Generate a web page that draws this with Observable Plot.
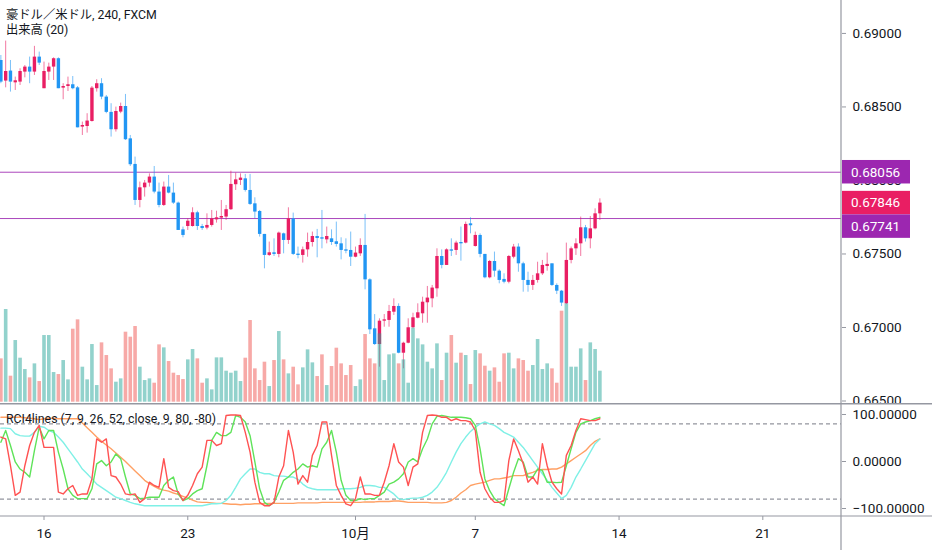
<!DOCTYPE html>
<html><head><meta charset="utf-8">
<script src="https://cdn.jsdelivr.net/npm/d3@7"></script>
<script src="https://cdn.jsdelivr.net/npm/@observablehq/plot@0.6"></script>
<style>
body{margin:0;background:#fff;}
#wrap{position:relative;width:932px;height:550px;overflow:hidden;background:#fff;font-family:Roboto,"Noto Sans CJK JP",sans-serif;color:#131722;}
#wrap svg{position:absolute;left:0;}
.lg{position:absolute;left:6px;font-size:12.3px;line-height:16px;color:#131722;white-space:nowrap;font-family:Roboto,"Noto Sans CJK JP",sans-serif;}
g[aria-label$="axis tick"]{stroke:#9598a1;}
</style></head>
<body><div id="wrap"></div>
<script>
// ---- data (AUD/USD 4h, FXCM) ----
const opens = [0.68816,0.68676,0.68744,0.68664,0.68669,0.68737,0.68771,0.68737,0.68839,0.68624,0.68737,0.68771,0.68828,0.68628,0.68639,0.68651,0.68630,0.68363,0.68367,0.68401,0.68624,0.68658,0.68567,0.68463,0.68345,0.68465,0.68503,0.68283,0.68109,0.67864,0.67950,0.67982,0.68023,0.67921,0.67830,0.67955,0.67914,0.67846,0.67664,0.67687,0.67687,0.67780,0.67687,0.67676,0.67694,0.67732,0.67744,0.67751,0.67801,0.67971,0.68000,0.68011,0.67932,0.67841,0.67789,0.67633,0.67490,0.67508,0.67497,0.67637,0.67592,0.67739,0.67499,0.67490,0.67528,0.67578,0.67619,0.67610,0.67596,0.67603,0.67583,0.67569,0.67528,0.67524,0.67478,0.67501,0.67558,0.67324,0.66991,0.66884,0.67043,0.67048,0.67104,0.67143,0.66825,0.66893,0.66998,0.67063,0.67093,0.67168,0.67195,0.67263,0.67483,0.67422,0.67528,0.67524,0.67578,0.67574,0.67705,0.67551,0.67626,0.67497,0.67338,0.67449,0.67383,0.67327,0.67308,0.67478,0.67547,0.67433,0.67320,0.67286,0.67320,0.67365,0.67415,0.67433,0.67286,0.67247,0.67161,0.67456,0.67535,0.67569,0.67678,0.67603,0.67671,0.67773];
const highs = [0.68850,0.68948,0.68816,0.68703,0.68760,0.68782,0.68839,0.68912,0.68873,0.68805,0.68798,0.68834,0.68834,0.68658,0.68703,0.68707,0.68639,0.68397,0.68454,0.68639,0.68685,0.68692,0.68578,0.68522,0.68499,0.68526,0.68585,0.68306,0.68159,0.67989,0.68000,0.68045,0.68095,0.67982,0.67989,0.68034,0.67982,0.67853,0.67683,0.67739,0.67814,0.67791,0.67701,0.67773,0.67796,0.67791,0.67864,0.67830,0.68063,0.68050,0.68045,0.68041,0.68041,0.67882,0.67796,0.67633,0.67581,0.67603,0.67649,0.67642,0.67814,0.67778,0.67547,0.67547,0.67642,0.67649,0.67667,0.67796,0.67683,0.67664,0.67717,0.67610,0.67603,0.67649,0.67547,0.67603,0.67769,0.67331,0.67088,0.67059,0.67088,0.67150,0.67195,0.67161,0.66900,0.67059,0.67097,0.67161,0.67206,0.67279,0.67286,0.67535,0.67528,0.67535,0.67603,0.67587,0.67683,0.67717,0.67746,0.67649,0.67637,0.67497,0.67456,0.67513,0.67392,0.67365,0.67490,0.67565,0.67569,0.67444,0.67376,0.67354,0.67444,0.67456,0.67506,0.67433,0.67297,0.67252,0.67574,0.67547,0.67603,0.67751,0.67694,0.67755,0.67807,0.67875];
const lows = [0.68658,0.68630,0.68601,0.68612,0.68646,0.68698,0.68658,0.68714,0.68782,0.68624,0.68680,0.68680,0.68624,0.68549,0.68605,0.68617,0.68358,0.68306,0.68322,0.68397,0.68601,0.68549,0.68454,0.68295,0.68329,0.68454,0.68272,0.68095,0.67830,0.67814,0.67887,0.67955,0.67909,0.67814,0.67823,0.67909,0.67837,0.67660,0.67610,0.67660,0.67683,0.67660,0.67660,0.67664,0.67683,0.67710,0.67660,0.67728,0.67796,0.67932,0.67966,0.67921,0.67830,0.67739,0.67615,0.67399,0.67483,0.67483,0.67474,0.67501,0.67565,0.67490,0.67467,0.67438,0.67478,0.67547,0.67474,0.67535,0.67569,0.67558,0.67547,0.67460,0.67501,0.67415,0.67474,0.67483,0.67256,0.66952,0.66878,0.66730,0.67002,0.67002,0.67082,0.66821,0.66719,0.66889,0.66991,0.67059,0.67029,0.67029,0.67134,0.67206,0.67399,0.67422,0.67483,0.67490,0.67451,0.67569,0.67637,0.67547,0.67474,0.67331,0.67331,0.67342,0.67297,0.67297,0.67297,0.67467,0.67376,0.67240,0.67240,0.67252,0.67302,0.67354,0.67383,0.67279,0.67224,0.67143,0.67156,0.67433,0.67490,0.67483,0.67581,0.67535,0.67664,0.67728];
const closes = [0.68669,0.68741,0.68669,0.68678,0.68741,0.68771,0.68737,0.68839,0.68798,0.68741,0.68771,0.68828,0.68624,0.68639,0.68651,0.68624,0.68358,0.68374,0.68404,0.68628,0.68658,0.68567,0.68463,0.68345,0.68469,0.68503,0.68277,0.68107,0.67864,0.67950,0.67982,0.68023,0.67921,0.67830,0.67955,0.67914,0.67846,0.67660,0.67626,0.67723,0.67780,0.67687,0.67673,0.67694,0.67739,0.67746,0.67755,0.67801,0.67973,0.68004,0.68016,0.67932,0.67837,0.67785,0.67633,0.67490,0.67508,0.67497,0.67642,0.67592,0.67739,0.67497,0.67490,0.67528,0.67578,0.67619,0.67605,0.67601,0.67619,0.67578,0.67565,0.67524,0.67519,0.67478,0.67506,0.67558,0.67324,0.66984,0.66884,0.67043,0.67052,0.67109,0.67143,0.66825,0.66893,0.66998,0.67066,0.67100,0.67172,0.67200,0.67268,0.67483,0.67422,0.67528,0.67519,0.67574,0.67569,0.67701,0.67692,0.67626,0.67497,0.67338,0.67449,0.67383,0.67320,0.67308,0.67483,0.67547,0.67433,0.67320,0.67286,0.67320,0.67365,0.67422,0.67429,0.67286,0.67247,0.67166,0.67456,0.67535,0.67569,0.67678,0.67603,0.67671,0.67773,0.67846];
const volumes = [130,278,78,185,132,98,73,115,62,200,200,89,83,125,67,219,247,105,67,173,50,178,140,100,60,70,210,195,227,105,65,70,57,172,163,122,87,80,68,127,158,130,57,70,37,133,133,93,87,93,62,132,245,100,65,120,47,125,212,127,85,105,52,103,157,118,77,142,50,107,162,115,80,110,47,67,203,130,115,205,65,142,145,115,127,57,222,190,172,120,100,175,65,147,200,117,147,140,53,155,145,108,93,103,60,145,147,100,130,125,93,110,188,98,115,100,57,273,295,105,105,160,65,178,158,93];
// RCI4lines (7, 9, 26, 52)
const rci7 = [52,48,-9,-72,-65,-9,34,62,77,30,30,30,-65,-69,-58,-51,-72,-69,-69,-37,48,41,48,-30,-33,-48,-69,-71,-69,-87,-79,-44,-51,-55,6,-55,-62,-64,-83,-72,-51,-26,
 -12,45,45,34,38,98,99,99,98,62,20,-44,-87,-94,-94,-87,-33,-9,66,20,-48,-30,-44,13,34,84,84,13,-51,-72,-90,-94,-79,-33,-69,-69,-72,-72,-44,-9,38,-1,
 -12,-51,-12,-5,62,98,99,98,94,94,87,91,87,87,84,66,-23,-58,-76,-87,-87,-83,2,48,23,-5,-44,-33,-48,38,-9,-44,-58,-69,13,34,66,91,89,87,87,91];
const rci9 = [41,66,34,-1,-16,-23,-33,23,73,48,66,66,20,-16,-58,-72,-79,-79,-79,-58,-5,2,-9,-1,16,6,-33,-69,-72,-79,-78,-76,-76,-76,-51,-40,-33,-69,-83,-79,-69,-62,
 -58,-9,45,62,55,55,62,98,94,84,55,-1,-58,-87,-94,-87,-65,-40,-33,-23,-16,-5,-12,-9,-12,27,41,66,20,-40,-72,-83,-83,-79,-81,-79,-79,-72,-65,-48,-44,-37,
 -26,-1,6,-1,27,48,80,96,98,96,94,94,94,93,91,77,27,-37,-62,-79,-87,-94,-58,-23,6,-1,-33,-33,-16,-19,-44,-44,-45,-44,-9,27,62,80,84,87,91,94];
const rci26 = [71,71,70,59,55,54,54,62,75,73,66,62,52,41,27,13,-1,-16,-26,-37,-48,-55,-62,-69,-76,-79,-83,-87,-90,-92,-94,-94,-94,-94,-94,-94,-94,-94,-94,-94,-94,-94,
 -94,-92,-90,-90,-89,-83,-72,-55,-37,-26,-16,-16,-23,-26,-26,-30,-31,-31,-33,-33,-38,-48,-55,-58,-60,-60,-60,-60,-60,-58,-58,-58,-57,-55,-51,-51,-52,-55,-55,-62,-69,-79,
 -81,-79,-78,-78,-76,-72,-65,-55,-40,-23,-1,20,38,52,64,73,80,84,80,77,70,62,57,52,41,30,16,2,-12,-26,-40,-55,-67,-79,-72,-55,-33,-16,2,20,38,48];
const rci52 = [94,94,94,94,94,93,92,91,89,91,92,92,91,91,91,91,91,82,72,62,52,43,35,27,18,9,0,-10,-20,-30,-40,-47,-53,-58,-61,-63,-67,-70,-74,-78,-82,-86,
 -87,-87,-88,-89,-89,-90,-91,-91,-92,-91,-91,-90,-90,-90,-89,-89,-89,-89,-89,-89,-88,-88,-88,-88,-88,-87,-87,-87,-87,-87,-87,-87,-87,-87,-86,-86,-86,-85,-85,-85,-84,-84,
 -85,-87,-87,-87,-87,-87,-88,-88,-88,-87,-83,-76,-67,-60,-51,-48,-46,-44,-40,-37,-37,-35,-33,-30,-30,-30,-26,-23,-19,-17,-17,-16,-16,-12,-5,2,9,16,23,34,43,48];
// axes / annotations
const dayTicks = [9, 39, 74, 99, 129, 159];
const dayLabels = ["16", "23", "10月", "7", "14", "21"];
const priceTicks = [0.665, 0.670, 0.675, 0.680, 0.685, 0.690];
const levelLines = [0.68056, 0.67741];
const lastPrice = 0.67846;
const rciTicks = [-100, 0, 100];
const rciLevels = [80, -80];

// ---- styling ----
const W = 932, MR = 91;
const XDOM = [-0.08, 175.42];
const UP = "#e91e63", DN = "#2196f3", PURPLE = "#9c27b0";
const VOL_UP = "rgba(38,166,154,0.5)", VOL_DN = "rgba(239,83,80,0.5)";
const FRAME = "#9598a1";
const FONT = "Roboto, 'Noto Sans CJK JP', sans-serif";

const bars = opens.map((o, i) => ({i, o, h: highs[i], l: lows[i], c: closes[i], v: volumes[i], up: closes[i] >= o}));
const wrap = document.getElementById("wrap");

// price pane
const priceChart = Plot.plot({
  width: W, height: 403, marginLeft: 0, marginRight: MR, marginTop: 0, marginBottom: 0,
  style: {fontFamily: FONT, fontSize: "13.5px", color: "#131722", background: "transparent"},
  x: {domain: XDOM, axis: null},
  y: {domain: [0.66483, 0.69224], axis: "right", ticks: priceTicks, tickFormat: d3.format(".5f"), tickSize: 4, tickPadding: 7, label: null},
  color: {type: "identity"},
  marks: [
    Plot.ruleY(levelLines, {stroke: PURPLE, strokeWidth: 1, strokeOpacity: 0.85}),
    Plot.ruleX(bars, {x: "i", y1: "l", y2: "h", stroke: d => d.up ? UP : DN, strokeOpacity: 0.6, strokeWidth: 1}),
    Plot.ruleX(bars, {x: "i", y1: "o", y2: "c", stroke: d => d.up ? UP : DN, strokeWidth: 3.4})
  ]
});
priceChart.style.top = "0px";
wrap.appendChild(priceChart);

// price labels on the right scale
{
  const ys = priceChart.scale("y"), xs = priceChart.scale("x");
  const x0 = xs.apply(XDOM[1]);
  const H = 23.5;
  const labs = [
    {p: levelLines[0], fill: PURPLE},
    {p: lastPrice, fill: UP},
    {p: levelLines[1], fill: PURPLE}
  ].map(d => ({...d, y: ys.apply(d.p) - H / 2})).sort((a, b) => a.y - b.y);
  for (let k = 1; k < labs.length; k++) if (labs[k].y < labs[k - 1].y + H) labs[k].y = labs[k - 1].y + H;
  const g = d3.select(priceChart).append("g").attr("text-anchor", "start");
  labs.forEach(d => {
    g.append("rect").attr("x", x0 + 1).attr("y", d.y).attr("width", 68).attr("height", H).attr("fill", d.fill);
    g.append("text").attr("x", x0 + 10).attr("y", d.y + H / 2).attr("dy", "0.36em").attr("fill", "#fff")
      .attr("text-anchor", "start").style("font", `13.5px ${FONT}`).text(d3.format(".5f")(d.p));
  });
  d3.select(priceChart).append("line").attr("x1", x0).attr("x2", x0).attr("y1", 0).attr("y2", 403)
    .attr("stroke", FRAME).attr("stroke-width", 1.2);
}

// volume overlay
const volChart = Plot.plot({
  width: W, height: 403, marginLeft: 0, marginRight: MR, marginTop: 0, marginBottom: 1.3,
  style: {background: "transparent"},
  x: {domain: XDOM, axis: null},
  y: {domain: [0, 1205], axis: null},
  color: {type: "identity"},
  marks: [
    Plot.ruleX(bars, {x: "i", y1: 0, y2: "v", stroke: d => d.up ? VOL_UP : VOL_DN, strokeWidth: 3.6})
  ]
});
volChart.style.top = "0px";
wrap.appendChild(volChart);

// RCI pane
const rciSeries = [
  {name: "RCI 52", vals: rci52, color: "#ffa064"},
  {name: "RCI 26", vals: rci26, color: "#7ff0e6"},
  {name: "RCI 9", vals: rci9, color: "#5fe35a"},
  {name: "RCI 7", vals: rci7, color: "#ff5252"}
];
const rciRows = rciSeries.flatMap(s => s.vals.map((v, i) => ({i, v, s: s.name, color: s.color})));
const rciChart = Plot.plot({
  width: W, height: 147, marginLeft: 0, marginRight: MR, marginTop: 0, marginBottom: 34,
  style: {fontFamily: FONT, fontSize: "13.5px", color: "#131722", background: "white"},
  x: {domain: XDOM, ticks: dayTicks, tickFormat: d => dayLabels[dayTicks.indexOf(d)], tickSize: 4, tickPadding: 8, label: null},
  y: {domain: [-117, 123.4], axis: "right", ticks: rciTicks,
      tickFormat: d => (d < 0 ? "\u2212" : "") + Math.abs(d).toFixed(5), tickSize: 4, tickPadding: 7, label: null},
  color: {type: "identity"},
  marks: [
    Plot.ruleY(rciLevels, {stroke: "#787b86", strokeDasharray: "4,3", strokeWidth: 1}),
    Plot.lineY(rciRows, {x: "i", y: "v", z: "s", stroke: "color", strokeWidth: 1.4})
  ]
});
rciChart.style.top = "403px";
wrap.appendChild(rciChart);
{
  const xs = rciChart.scale("x"), ys = rciChart.scale("y");
  const x0 = xs.apply(XDOM[1]);
  const yb = ys.range[0];
  const s = d3.select(rciChart);
  s.append("line").attr("x1", 0).attr("x2", W).attr("y1", 0.8).attr("y2", 0.8).attr("stroke", FRAME).attr("stroke-width", 1.6);
  s.append("line").attr("x1", 0).attr("x2", W).attr("y1", yb).attr("y2", yb).attr("stroke", FRAME).attr("stroke-width", 1.2);
  s.append("line").attr("x1", x0).attr("x2", x0).attr("y1", 0).attr("y2", 147).attr("stroke", FRAME).attr("stroke-width", 1.2);
}

// pane legends
const addLegend = (text, top) => {
  const d = document.createElement("div");
  d.className = "lg"; d.style.top = top + "px"; d.textContent = text;
  wrap.appendChild(d);
};
addLegend("豪ドル／米ドル, 240, FXCM", 7);
addLegend("出来高 (20)", 22);
addLegend("RCI4lines (7, 9, 26, 52, close, 9, 80, -80)", 411);
</script>
</body></html>
